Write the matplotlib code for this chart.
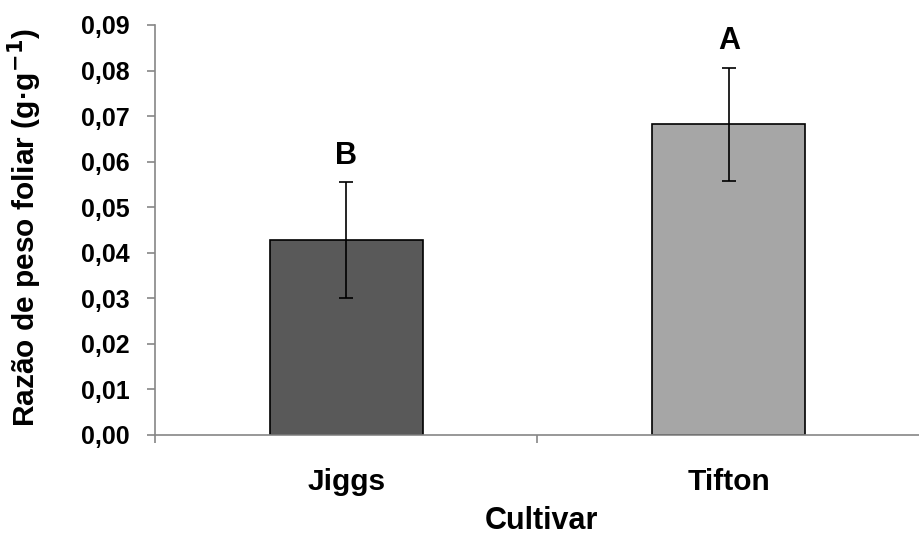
import matplotlib.pyplot as plt

# data
cultivars = ['Jiggs', 'Tifton']
means = [0.0428, 0.0682]
errors = [0.0127, 0.0124]
letters = ['B', 'A']
bar_colors = ['#595959', '#a6a6a6']
yticks = [0.00, 0.01, 0.02, 0.03, 0.04, 0.05, 0.06, 0.07, 0.08, 0.09]

plt.rcParams['font.family'] = ['Liberation Sans', 'DejaVu Sans']
plt.rcParams['font.weight'] = 'bold'

fig = plt.figure(figsize=(9.2, 5.36), dpi=100)
ax = fig.add_axes([155/920, 101/536, (920-155)/920, (435-25)/536])

x = list(range(len(cultivars)))
ax.bar(x, means, width=0.40, color=bar_colors, edgecolor='black', linewidth=1.2,
       yerr=errors, error_kw=dict(ecolor='black', elinewidth=1.2, capsize=5, capthick=1.2),
       zorder=2)

for xi, m, e, lab in zip(x, means, errors, letters):
    ax.text(xi, m + e + 0.0025, lab, ha='center', va='bottom', fontsize=22, fontweight='bold')

ax.set_ylim(0, 0.09)
ax.set_xlim(-0.5, 1.5 - 7/386)
ax.set_yticks(yticks)
ax.set_yticklabels([('%.2f' % v).replace('.', ',') for v in yticks], fontsize=18, fontweight='bold')

ax.set_xticks(x)
ax.set_xticklabels(cultivars, fontsize=21.5, fontweight='bold')
ax.set_xticks([-0.5, 0.5, 1.5], minor=True)
ax.tick_params(axis='x', which='major', length=0, pad=24)
ax.tick_params(axis='x', which='minor', length=6, color='#868686', width=1.2, direction='out')
ax.tick_params(axis='y', length=6, color='#868686', width=1.2, direction='out', pad=12)

for s in ['top', 'right']:
    ax.spines[s].set_visible(False)
for s in ['left', 'bottom']:
    ax.spines[s].set_color('#868686')
    ax.spines[s].set_linewidth(1.2)

ax.set_xlabel('Cultivar', fontsize=22, fontweight='bold')
ax.xaxis.set_label_coords(0.505, -0.172)
ax.set_ylabel('Razão de peso foliar (g·g$^{\\mathbf{-1}}$)', fontsize=21.5, fontweight='bold')
ax.yaxis.set_label_coords(-0.145, 0.505)

fig.savefig('out.png', dpi=100)
